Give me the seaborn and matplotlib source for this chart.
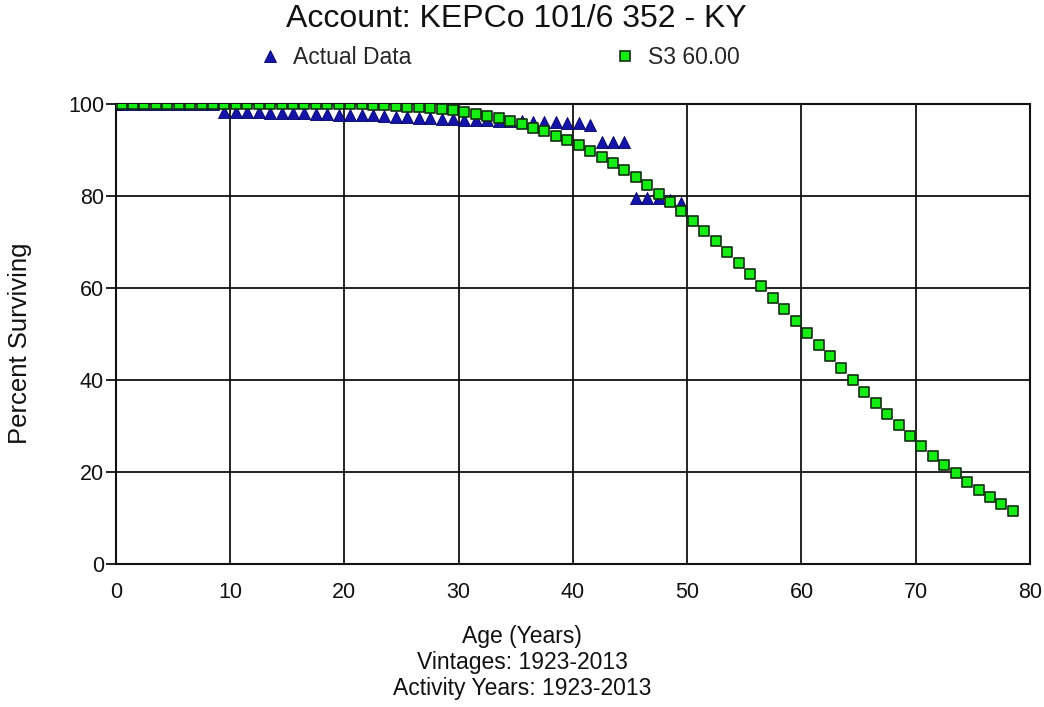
import matplotlib
matplotlib.use("Agg")
import matplotlib.pyplot as plt
import seaborn as sns
import pandas as pd
from matplotlib.lines import Line2D

# ---- data ----
curve_ages = [0] + [i + 0.5 for i in range(79)]
curve_values = [100] + [100] * 18 + [99.9] * 4 + [
    99.8, 99.7, 99.6, 99.4, 99.3, 99.1, 98.8, 98.6, 98.2, 97.8,
    97.4, 96.9, 96.3, 95.6, 94.8, 94.1, 93.1, 92.2, 91.1, 89.8,
    88.5, 87.1, 85.7, 84.1, 82.4, 80.5, 78.7, 76.7, 74.6, 72.4,
    70.2, 67.8, 65.5, 63.0, 60.5, 57.9, 55.4, 52.8, 50.2, 47.7,
    45.2, 42.6, 40.0, 37.4, 35.0, 32.5, 30.2, 27.9, 25.7, 23.5,
    21.5, 19.7, 17.8, 16.1, 14.6, 13.0, 11.6]

actual_ages = [0] + [i + 0.5 for i in range(50)]
actual_values = [100] + [100] * 9 + [
    98.3, 98.3, 98.2, 98.2, 98.1, 98.0, 98.0, 98.0, 97.8, 97.8,
    97.7, 97.7, 97.6, 97.6, 97.4, 97.2, 97.2, 96.9, 96.9, 96.7,
    96.7, 96.5, 96.5, 96.4, 96.3, 96.2, 96.2, 96.1, 96.1, 96.0,
    95.9, 95.8, 95.4, 91.8, 91.8, 91.8, 79.6, 79.6, 79.6, 79.1,
    78.5]

x_ticks = [0, 10, 20, 30, 40, 50, 60, 70, 80]
y_ticks = [0, 20, 40, 60, 80, 100]

title = "Account: KEPCo 101/6 352 - KY"
actual_label = "Actual Data"
curve_label = "S3 60.00"
x_label_lines = ["Age (Years)", "Vintages: 1923-2013", "Activity Years: 1923-2013"]
y_label = "Percent Surviving"

# ---- style ----
sns.set_theme(style="white")
plt.rcParams["font.family"] = ["Liberation Sans", "DejaVu Sans"]

BLUE = "#1414a8"
GREEN = "#14ec14"

df_actual = pd.DataFrame({"age": actual_ages, "pct": actual_values})
df_curve = pd.DataFrame({"age": curve_ages, "pct": curve_values})

fig = plt.figure(figsize=(10.44, 7.07), dpi=100)
ax = fig.add_axes([0.111, 0.2023, 0.8756, 0.6507])

sns.scatterplot(data=df_actual, x="age", y="pct", ax=ax, marker="^", s=75,
                color=BLUE, edgecolor="#000060", linewidth=0.6, zorder=3,
                legend=False)
sns.scatterplot(data=df_curve, x="age", y="pct", ax=ax, marker="s", s=62,
                color=GREEN, edgecolor="#103010", linewidth=1.2, zorder=4,
                legend=False)

ax.set_xlim(0, 80)
ax.set_ylim(0, 100)
ax.set_xticks(x_ticks)
ax.set_yticks(y_ticks)
ax.grid(True, color="#111111", linewidth=1.3)
ax.set_axisbelow(True)
for sp in ax.spines.values():
    sp.set_color("#111111")
    sp.set_linewidth(1.5)
    sp.set_visible(True)
ax.tick_params(axis="y", which="both", length=7.5, width=1.3, color="#111111",
               pad=1, labelsize=15.5, labelcolor="#111111", left=True)
ax.tick_params(axis="x", which="both", length=0, pad=13, labelsize=15.5,
               labelcolor="#111111")
ax.set_xlabel("")
ax.set_ylabel("")

fig.text(0.495, 0.973, title, ha="center", va="center", fontsize=23, color="#111111")

handles = [
    Line2D([], [], linestyle="none", marker="^", markersize=8,
           markerfacecolor=BLUE, markeredgecolor="#000060", markeredgewidth=0.6),
    Line2D([], [], linestyle="none", marker="s", markersize=7,
           markerfacecolor=GREEN, markeredgecolor="#103010", markeredgewidth=1.2),
]
fig.legend(handles, [actual_label, curve_label], loc="center",
           bbox_to_anchor=(0.478, 0.919), ncol=2, frameon=False,
           fontsize=16.5, columnspacing=8.8, handletextpad=0.5, handlelength=1.0)

fig.text(20 / 1044, 1 - 343 / 707, y_label, rotation=90, ha="center",
         va="center", fontsize=18.5, color="#111111")
for i, line in enumerate(x_label_lines):
    fig.text(0.5, 1 - (636 + 26 * i) / 707, line, ha="center", va="center",
             fontsize=16.5, color="#111111")

fig.savefig("out.png", dpi=100)
